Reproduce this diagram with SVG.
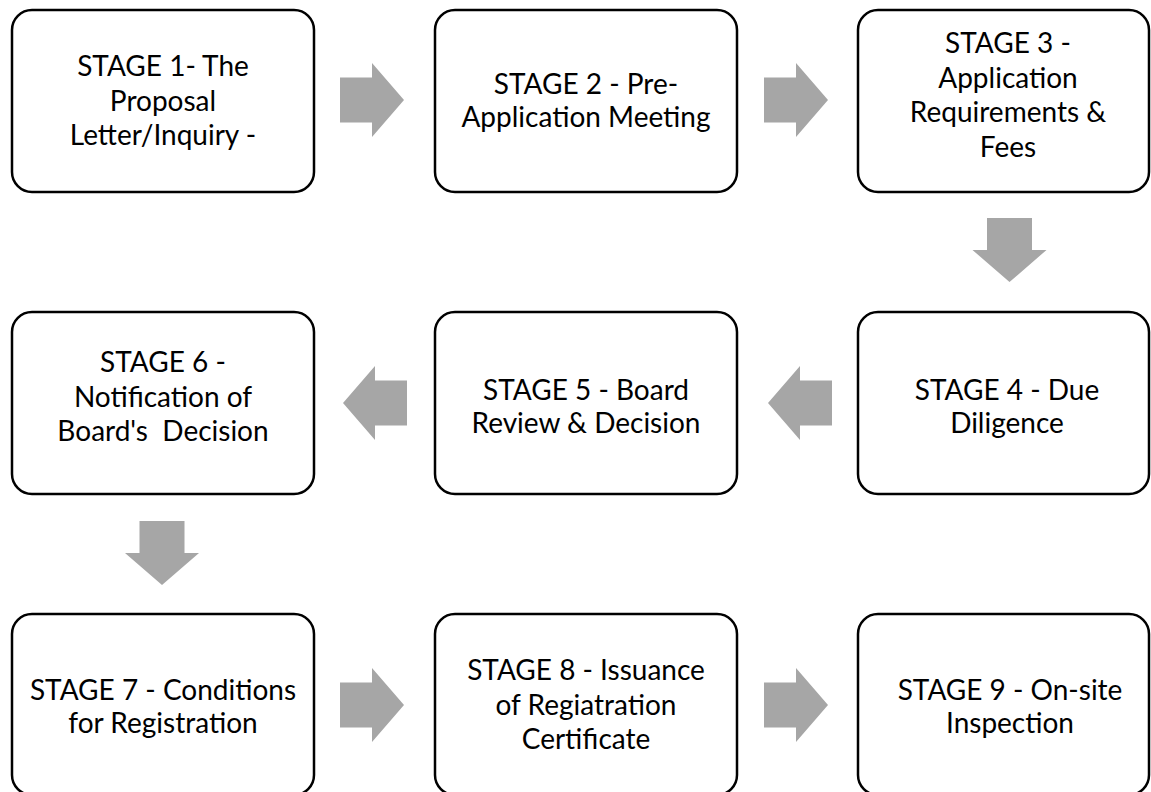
<svg xmlns="http://www.w3.org/2000/svg" width="1151" height="792" viewBox="0 0 1151 792">
<style>
.box{fill:#ffffff;stroke:#000000;stroke-width:2.5}
.t{font-family:Lato,"Liberation Sans",sans-serif;font-size:28px;fill:#000000;text-anchor:middle}
.arr{fill:#a6a6a6}
</style>
<defs>
<polygon id="ar" class="arr" points="0,-22.5 32,-22.5 32,-37 64,0 32,37 32,22.5 0,22.5"/>
</defs>
<rect width="1151" height="792" fill="#ffffff"/>
<g id="connectors">
<use href="#ar" x="340" y="100"/>
<use href="#ar" x="764" y="100"/>
<use href="#ar" transform="translate(1009.5,218) rotate(90)"/>
<use href="#ar" transform="translate(832,403) rotate(180)"/>
<use href="#ar" transform="translate(407,403) rotate(180)"/>
<use href="#ar" transform="translate(162,521) rotate(90)"/>
<use href="#ar" x="340" y="705"/>
<use href="#ar" x="764" y="705"/>
</g>
<g id="stage1">
<rect class="box" x="12" y="10" width="302" height="182" rx="20"/>
<text class="t"><tspan x="163" y="76">STAGE 1- The</tspan><tspan x="163" y="110.5">Proposal</tspan><tspan x="163" y="145">Letter/Inquiry -</tspan></text>
</g>
<g id="stage2">
<rect class="box" x="435" y="10" width="302" height="182" rx="20"/>
<text class="t"><tspan x="586" y="94">STAGE 2 - Pre-</tspan><tspan x="586" y="127">Application Meeting</tspan></text>
</g>
<g id="stage3">
<rect class="box" x="858" y="10" width="291" height="182" rx="20"/>
<text class="t"><tspan x="1008" y="53">STAGE 3 -</tspan><tspan x="1008" y="87.5">Application</tspan><tspan x="1008" y="122">Requirements &amp;</tspan><tspan x="1008" y="156.5">Fees</tspan></text>
</g>
<g id="stage4">
<rect class="box" x="858" y="312" width="291" height="182" rx="20"/>
<text class="t"><tspan x="1007" y="400">STAGE 4 - Due</tspan><tspan x="1007" y="433">Diligence</tspan></text>
</g>
<g id="stage5">
<rect class="box" x="435" y="312" width="302" height="182" rx="20"/>
<text class="t"><tspan x="586" y="400">STAGE 5 - Board</tspan><tspan x="586" y="433">Review &amp; Decision</tspan></text>
</g>
<g id="stage6">
<rect class="box" x="12" y="312" width="302" height="182" rx="20"/>
<text class="t" xml:space="preserve"><tspan x="163" y="372">STAGE 6 -</tspan><tspan x="163" y="406.5">Notification of</tspan><tspan x="163" y="441">Board's  Decision</tspan></text>
</g>
<g id="stage7">
<rect class="box" x="12" y="614" width="302" height="181" rx="20"/>
<text class="t"><tspan x="163" y="700">STAGE 7 - Conditions</tspan><tspan x="163" y="733">for Registration</tspan></text>
</g>
<g id="stage8">
<rect class="box" x="435" y="614" width="302" height="181" rx="20"/>
<text class="t"><tspan x="586" y="680">STAGE 8 - Issuance</tspan><tspan x="586" y="714.5">of Regiatration</tspan><tspan x="586" y="749">Certificate</tspan></text>
</g>
<g id="stage9">
<rect class="box" x="858" y="614" width="291" height="181" rx="20"/>
<text class="t"><tspan x="1010" y="700">STAGE 9 - On-site</tspan><tspan x="1010" y="733">Inspection</tspan></text>
</g>
</svg>
